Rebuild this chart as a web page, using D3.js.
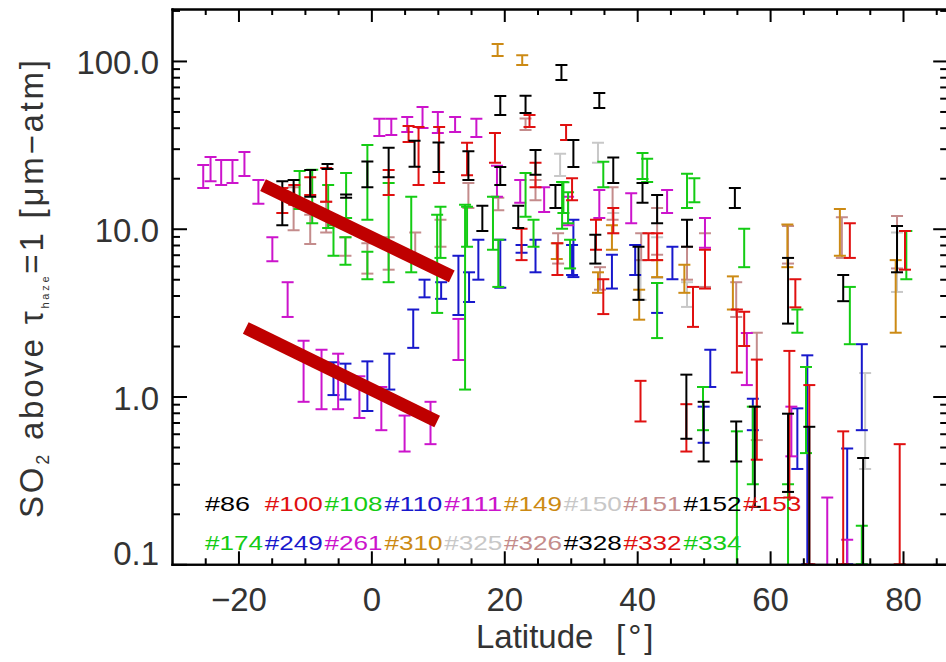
<!DOCTYPE html>
<html><head><meta charset="utf-8">
<script src="https://cdn.jsdelivr.net/npm/d3@7"></script>
<style>
html,body{margin:0;padding:0;background:#fff;}
svg{display:block;}
</style></head><body>
<svg id="chart" width="946" height="662"></svg>
<script>
// ---------------- DATA ----------------
// Each bar: [latitude (deg), lower SO2 (um-atm), upper SO2 (um-atm)]
const barsGray = [
 [28.4,20.6,28.0],[34.1,24.7,32.5],[40.5,3.77,6.5],[47.5,3.42,4.8],[36.4,9.4,12.4],
 [43.0,5.08,8.9],[79.1,4.2,9.5],[74.3,0.37,1.38]
];
const barsRosy = [
 [-11.7,9.8,17.7],[-9.2,8.1,12.1],[-6.8,9.5,14.5],[-3.9,6.9,8.9],[-0.6,5.4,8.2],[2.6,5.7,8.9],
 [6.6,6.8,9.5],[10.4,7.8,11.3],[14.6,13.3,18.7],[19.1,12.9,15.3],[23.2,38.8,45.4],[24.7,14.8,19.5],
 [28.1,6.2,9.4],[34.4,4.33,5.9],[36.3,11.3,17.7],[40.6,6.5,9.4],[43.0,7.0,13.3],[47.5,4.97,7.8],
 [50.2,4.5,9.4],[54.9,2.98,4.8],[58.0,0.55,2.4],[62.7,6.2,10.4],[70.8,6.7,11.7],[79.1,5.8,11.9]
];
const barsOrange = [
 [19.0,107,126],[22.7,94.7,108],[27.9,6.6,8.2],[34.1,4.15,5.5],[36.2,7.5,10.5],[40.3,2.87,4.33],
 [43.0,5.15,6.5],[47.1,4.15,6.1],[54.4,3.3,5.2],[62.6,5.9,10.6],[70.5,6.9,13.1],[78.9,2.4,6.5]
];
const barsBlue = [
 [-5.7,1.02,1.6],[-3.9,0.96,1.57],[-0.6,0.82,1.62],[2.7,1.1,1.8],[6.3,1.95,3.3],[8.0,3.9,4.97],
 [10.5,3.82,4.8],[13.1,3.06,6.9],[14.7,3.66,5.5],[16.1,4.97,8.6],[19.4,4.45,8.6],[22.6,7.2,8.0],
 [24.7,5.5,8.6],[30.2,5.3,8.0],[30.4,5.15,11.3],[36.2,4.4,7.0],[39.7,5.3,8.0],[43.0,3.15,4.75],
 [45.3,5.0,7.8],[51.0,1.14,1.9],[57.4,0.63,0.97],[64.1,0.37,0.85],[65.6,0.1,1.76],[71.6,0.1,0.49],
 [73.8,0.63,2.05],[50.0,0.53,0.87]
];
const barsMagenta = [
 [-25.3,17.5,24.0],[-24.2,19.2,26.8],[-22.6,18.2,25.7],[-20.9,18.7,25.7],[-19.1,20.6,28.7],
 [-17.0,14.1,19.5],[-14.9,6.4,8.9],[-12.6,2.98,4.8],[-10.2,0.93,2.15],[-7.5,0.84,1.9],
 [-5.0,0.84,1.8],[-1.8,0.745,1.32],[1.5,0.63,1.14],[5.0,0.47,0.77],[8.9,0.52,0.93],[13.1,1.65,2.9],
 [1.2,35.7,45.2],[3.0,36.2,45.2],[5.4,37.7,46.4],[7.7,39.8,53.2],[10.0,37.2,49.7],[12.6,37.7,46.4],
 [15.8,35.2,45.2],[18.9,15.5,23.7],[22.4,14.3,19.5],[26.0,12.6,17.7],[29.6,10.5,15.5],[34.3,11.6,17.0],
 [39.1,10.8,16.3],[44.5,12.4,17.0],[50.2,7.7,11.6],[56.5,1.17,2.39],[63.2,0.44,0.87],
 [68.6,0.05,0.25],[71.6,0.05,0.14]
];
const barsGreen = [
 [-10.8,13.1,22.1],[-8.9,10.8,22.5],[-6.5,10.1,18.2],[-5.7,6.9,10.5],[-3.8,11.6,21.5],[-3.9,6.1,8.9],
 [-0.6,11.3,31.6],[-0.6,5.0,7.3],[2.6,4.8,18.7],[6.0,5.5,15.5],[9.9,3.15,12.1],[10.4,6.7,13.5],
 [14.1,1.1,13.9],[14.4,7.8,13.5],[18.3,7.5,15.5],[19.1,4.5,8.6],[23.2,11.8,21.5],[24.4,7.8,11.3],
 [28.7,10.0,19.0],[28.9,12.4,18.9],[29.6,10.8,16.5],[29.9,5.8,8.6],[34.9,17.7,25.1],[40.8,19.8,28.3],
 [41.5,19.0,26.1],[43.0,2.23,4.75],[47.5,13.3,21.3],[48.6,14.4,20.0],[49.9,0.63,1.14],[55.0,0.05,0.62],
 [56.1,5.9,10.0],[57.4,0.3,0.87],[62.7,0.05,0.3],[64.1,2.4,3.3],[65.4,0.46,1.5],[72.0,2.05,4.5],
 [73.8,0.1,0.17],[80.5,5.0,9.7]
];
const barsRed = [
 [-13.4,12.4,17.5],[-11.6,13.9,18.2],[-9.2,15.9,20.3],[-6.8,14.5,23.0],[2.6,15.9,22.4],[5.6,32.9,40.9],
 [7.1,18.2,40.4],[10.2,18.7,40.4],[14.4,20.8,32.5],[18.6,24.7,37.2],[23.8,40.4,47.7],[24.7,17.7,24.7],
 [29.3,33.8,41.5],[30.2,14.8,20.0],[22.6,6.5,10.0],[28.0,5.3,8.2],[33.8,7.5,11.3],[34.9,3.1,5.0],
 [36.4,9.4,13.3],[40.5,0.71,1.24],[41.7,6.5,9.4],[43.0,6.5,9.4],[47.4,0.47,0.9],[48.4,2.6,4.5],
 [50.2,4.4,7.5],[55.0,1.39,3.3],[56.1,2.0,3.2],[58.0,0.42,1.66],[62.9,0.25,1.87],[63.8,3.4,5.0],
 [65.9,0.1,1.17],[71.0,0.1,0.62],[72.0,6.7,10.8],[79.5,0.1,0.52],[80.3,5.7,9.7]
];
const barsBlack = [
 [-13.4,10.5,19.2],[-11.7,14.8,19.5],[-9.2,15.5,22.4],[-6.6,22.7,24.3],[-3.8,15.3,16.0],[-0.6,17.7,25.2],
 [2.6,20.3,30.4],[6.5,23.4,33.4],[10.1,21.8,32.6],[14.6,19.5,29.0],[16.7,9.7,13.7],[19.4,47.7,61.9],
 [19.4,18.2,23.3],[22.1,10.1,13.7],[23.2,49.0,62.0],[24.7,21.0,29.5],[27.7,13.3,18.2],[28.6,77.0,94.7],
 [30.4,23.3,33.8],[33.7,6.2,9.2],[34.3,52.4,64.4],[36.4,18.7,26.6],[40.2,3.77,7.8],[40.8,14.3,18.7],
 [43.0,10.8,15.9],[47.5,7.8,11.3],[54.7,13.3,17.5],[62.7,2.72,6.7],[71.0,3.7,5.3],[79.1,5.5,10.4],
 [47.4,0.56,1.35],[50.0,0.41,0.93],[54.9,0.41,0.71],[57.7,0.22,0.87],[62.7,0.27,0.79],
 [65.9,0.05,0.66],[74.0,0.05,0.43]
];
// Trend lines: [lat1, SO2 1, lat2, SO2 2]
const trendLines = [[-16.3,18.2,12.1,5.2],[-18.9,2.56,9.9,0.71]];

// Legend (orbit numbers)
const legendRow1 = ["#86","#100","#108","#110","#111","#149","#150","#151","#152","#153"];
const legendRow1Groups = ["black","red","green","blue","magenta","orange","gray","rosy","black","red"];
const legendRow2 = ["#174","#249","#261","#310","#325","#326","#328","#332","#334"];
const legendRow2Groups = ["green","blue","magenta","orange","gray","rosy","black","red","green"];

// Axis ticks
const xTickValues = [-20,0,20,40,60,80];
const xTickLabels = ["\u221220","0","20","40","60","80"];
const yTickValues = [0.1,1,10,100];
const yTickLabels = ["0.1","1.0","10.0","100.0"];

// ---------------- STYLE ----------------
const groupColor = {
  black:"#000000", red:"#e01010", green:"#14cc14", blue:"#1818cc",
  magenta:"#cc14cc", orange:"#cc8a14", gray:"#c8c8c8", rosy:"#c48c8c"
};
const trendColor = "#bf0000";
const FONT = "'Liberation Sans', Arial, Helvetica, sans-serif";
const TXT = "#333";

// ---------------- LAYOUT ----------------
const svg = d3.select("#chart");
const L = 172, R = 948.2, T = 9, B = 564.3;
const x = d3.scaleLinear().domain([-30, 86.8]).range([L, R]);
const y = d3.scaleLog().domain([0.1, 204]).range([B, T]);

svg.append("defs").append("clipPath").attr("id","clip")
  .append("rect").attr("x",L).attr("y",T).attr("width",R-L).attr("height",B-T);

const plot = svg.append("g").attr("clip-path","url(#clip)");

function drawBars(data, color){
  const g = plot.append("g").attr("stroke", color).attr("stroke-width", 2).attr("fill","none");
  const s = g.selectAll("g").data(data).join("g");
  s.append("line").attr("x1",d=>x(d[0])).attr("x2",d=>x(d[0]))
    .attr("y1",d=>y(d[1])).attr("y2",d=>y(d[2]));
  s.append("line").attr("x1",d=>x(d[0])-6).attr("x2",d=>x(d[0])+6)
    .attr("y1",d=>y(d[1])).attr("y2",d=>y(d[1]));
  s.append("line").attr("x1",d=>x(d[0])-6).attr("x2",d=>x(d[0])+6)
    .attr("y1",d=>y(d[2])).attr("y2",d=>y(d[2]));
}
drawBars(barsGray, groupColor.gray);
drawBars(barsRosy, groupColor.rosy);
drawBars(barsOrange, groupColor.orange);
drawBars(barsBlue, groupColor.blue);
drawBars(barsMagenta, groupColor.magenta);
drawBars(barsGreen, groupColor.green);
drawBars(barsRed, groupColor.red);
drawBars(barsBlack, groupColor.black);

// Legend
const slot0 = 205, slotStep = 59.8;
function drawLegend(labels, groups, baseY){
  svg.append("g").selectAll("text").data(labels).join("text")
    .attr("x",(d,i)=>slot0 + i*slotStep).attr("y",baseY)
    .attr("font-family",FONT).attr("font-size",21)
    .attr("textLength",d=>d.length===3?45:58).attr("lengthAdjust","spacingAndGlyphs")
    .attr("fill",(d,i)=>groupColor[groups[i]])
    .text(d=>d);
}
drawLegend(legendRow1, legendRow1Groups, 511);
drawLegend(legendRow2, legendRow2Groups, 550);

// Trend lines
svg.append("g").selectAll("line").data(trendLines).join("line")
  .attr("x1",d=>x(d[0])).attr("y1",d=>y(d[1]))
  .attr("x2",d=>x(d[2])).attr("y2",d=>y(d[3]))
  .attr("stroke",trendColor).attr("stroke-width",13);

// Axes
const yMinor = y.ticks().filter(v => !yTickValues.includes(v));
const xMinor = d3.range(-25, 90, 5).filter(v => !xTickValues.includes(v));
const ax = svg.append("g");
function styleAxis(g){
  g.select(".domain").attr("stroke","#000").attr("stroke-width",2).attr("stroke-linecap","square");
  g.selectAll(".tick line").attr("stroke","#000").attr("stroke-width",2);
  g.selectAll("text").attr("font-family",FONT).attr("font-size",33).attr("fill",TXT);
}
// left
ax.append("g").attr("transform",`translate(${L},0)`)
  .call(d3.axisLeft(y).tickValues(yMinor).tickSize(-8).tickSizeOuter(0).tickFormat("")).call(styleAxis);
const yl = ax.append("g").attr("transform",`translate(${L},0)`)
  .call(d3.axisLeft(y).tickValues(yTickValues).tickSize(-15).tickSizeOuter(0).tickPadding(13)
     .tickFormat((d,i)=>yTickLabels[i])).call(styleAxis);
yl.selectAll("text").attr("dy", d => d === 0.1 ? "0.02em" : "0.38em");
// right
ax.append("g").attr("transform",`translate(${R},0)`)
  .call(d3.axisRight(y).tickValues(yMinor).tickSize(-8).tickSizeOuter(0).tickFormat("")).call(styleAxis);
ax.append("g").attr("transform",`translate(${R},0)`)
  .call(d3.axisRight(y).tickValues(yTickValues).tickSize(-15).tickSizeOuter(0).tickFormat("")).call(styleAxis);
// bottom
ax.append("g").attr("transform",`translate(0,${B})`)
  .call(d3.axisBottom(x).tickValues(xMinor).tickSize(-6).tickSizeOuter(0).tickFormat("")).call(styleAxis);
ax.append("g").attr("transform",`translate(0,${B})`)
  .call(d3.axisBottom(x).tickValues(xTickValues).tickSize(-13).tickSizeOuter(0).tickPadding(23)
     .tickFormat((d,i)=>xTickLabels[i])).call(styleAxis);
// top
ax.append("g").attr("transform",`translate(0,${T})`)
  .call(d3.axisTop(x).tickValues(xMinor).tickSize(-6).tickSizeOuter(0).tickFormat("")).call(styleAxis);
ax.append("g").attr("transform",`translate(0,${T})`)
  .call(d3.axisTop(x).tickValues(xTickValues).tickSize(-13).tickSizeOuter(0).tickFormat("")).call(styleAxis);

// Axis titles
const xt = svg.append("text").attr("y",648)
  .attr("font-family",FONT).attr("font-size",33).attr("fill",TXT);
xt.append("tspan").attr("x",476).text("Latitude");
xt.append("tspan").attr("x",616).attr("letter-spacing",3).text("[\u00b0]");

const yt = svg.append("text").attr("transform","translate(43,289) rotate(-90)")
  .attr("text-anchor","middle").attr("font-family",FONT).attr("font-size",33).attr("fill",TXT)
  .attr("textLength",458).attr("lengthAdjust","spacing");
yt.append("tspan").text("SO");
yt.append("tspan").attr("font-size",18).attr("dy",6).text("2");
yt.append("tspan").attr("dy",-6).text(" above ");
yt.append("tspan").text("\u03c4");
yt.append("tspan").attr("font-size",11).attr("dy",6).text("haze");
yt.append("tspan").attr("dy",-6).text("=1  [\u03bcm\u2212atm]");
</script>
</body></html>
